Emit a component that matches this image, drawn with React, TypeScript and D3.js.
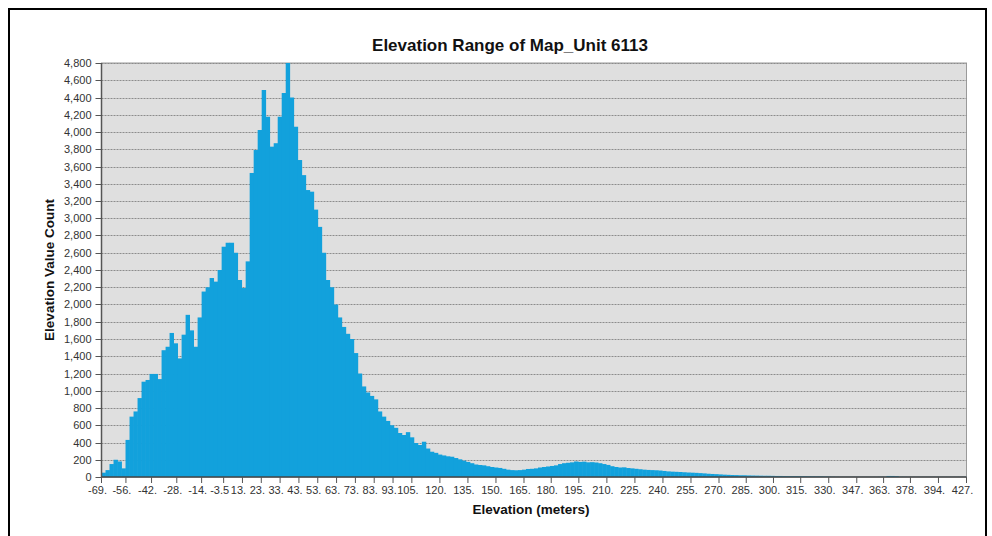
import React from "react";
import * as d3 from "d3";

// Histogram counts, one value per bin (left to right)
const BIN_COUNTS: number[] = [
  50, 80, 150, 200, 180, 100, 430, 700, 760, 915,
  1105, 1125, 1195, 1195, 1135, 1470, 1510, 1670, 1550, 1375,
  1650, 1880, 1700, 1510, 1850, 2150, 2200, 2307, 2265, 2400,
  2670, 2716, 2716, 2600, 2284, 2191, 2500, 3525, 3791, 4023,
  4487, 4177, 3830, 3870, 4177, 4452, 4800, 4400, 4061, 3675,
  3500, 3327, 3308, 3100, 2900, 2600, 2284, 2200, 2000, 1850,
  1740, 1660, 1600, 1437, 1200, 1050, 980, 940, 900, 760,
  700, 650, 600, 570, 510, 487, 520, 460, 394, 371,
  409, 330, 293, 280, 260, 250, 240, 235, 220, 205,
  190, 175, 160, 145, 139, 135, 125, 116, 110, 105,
  95, 85, 80, 78, 80, 85, 93, 95, 100, 110,
  116, 122, 128, 135, 150, 160, 165, 170, 180, 175,
  178, 170, 172, 168, 160, 150, 140, 125, 116, 110,
  112, 104, 100, 95, 90, 85, 82, 80, 78, 75,
  70, 65, 62, 60, 58, 55, 52, 50, 48, 45,
  42, 38, 35, 33, 30, 27, 25, 23, 22, 20,
  20, 18, 17, 16, 15, 14, 14, 13, 12, 12,
  11, 10, 10, 10, 9, 9, 8, 8, 7, 7,
  6, 5, 4, 3, 2, 2, 2, 2, 2, 2,
  2, 2, 2, 2, 3, 3, 12, 12, 10, 3,
  3, 2, 2, 2, 2, 2, 2, 2, 2, 2,
  2, 2, 2, 2, 2, 2,
];

// Category-axis labels and the bin position at which each tick sits
const X_TICK_LABELS: string[] = [
  "-69.", "-56.", "-42.", "-28.", "-14.", "-3.5", "13.", "23.", "33.", "43.",
  "53.", "63.", "73.", "83.", "93.", "105.", "120.", "135.", "150.", "165.",
  "180.", "195.", "210.", "225.", "240.", "255.", "270.", "285.", "300.", "315.",
  "330.", "347.", "363.", "378.", "394.", "427.",
];
const X_TICK_BINS: number[] = [
  0, 6.1, 12.5, 18.8, 25, 30.5, 35.2, 39.9, 44.6, 49.3,
  54.0, 58.7, 63.4, 68.1, 72.8, 77.5, 84.5, 91.5, 98.5, 105.5,
  112.3, 119.2, 126.2, 133.2, 140.2, 147.2, 154.2, 161, 167.8, 174.6,
  181.6, 188.6, 195.3, 202, 209, 216,
];

const Y_MAX = 4800;
const Y_STEP = 200;

const TITLE = "Elevation Range of Map_Unit 6113";
const X_TITLE = "Elevation (meters)";
const Y_TITLE = "Elevation Value Count";

export default function App() {
  const W = 992;
  const H = 536;
  const left = 101.5;
  const right = 966.5;
  const top = 63;
  const bottom = 477;

  const x = d3.scaleLinear().domain([0, BIN_COUNTS.length]).range([left, right]);
  const y = d3.scaleLinear().domain([0, Y_MAX]).range([bottom, top]);
  const yTicks = d3.range(0, Y_MAX + 1, Y_STEP);
  const fmt = d3.format(",");
  const font = "'Liberation Sans', Arial, sans-serif";

  return (
    <svg
      width={W}
      height={H}
      style={{ position: "absolute", left: 0, top: 0, background: "#fff" }}
      fontFamily={font}
    >
      <rect x={9} y={9} width={977} height={540} fill="#fff" stroke="#000" strokeWidth={2} />
      <text x={510} y={51} textAnchor="middle" fontSize={17} fontWeight="bold" fill="#111">
        {TITLE}
      </text>

      {/* plot background */}
      <rect x={left} y={top} width={right - left} height={bottom - top} fill="#dfdfdf" stroke="#9a9a9a" strokeWidth={1} />

      {/* gridlines */}
      {yTicks.slice(1).map((t) => (
        <line
          key={"g" + t}
          x1={left}
          x2={right}
          y1={Math.round(y(t)) + 0.5}
          y2={Math.round(y(t)) + 0.5}
          stroke="#8c8c8c"
          strokeWidth={1}
          strokeDasharray="2,1"
        />
      ))}

      {/* bars */}
      {BIN_COUNTS.map((v, i) => (
        <rect
          key={"b" + i}
          x={x(i)}
          y={y(v)}
          width={x(i + 1) - x(i) + 0.4}
          height={bottom - y(v)}
          fill="#12a1dc"
        />
      ))}

      {/* y axis */}
      <line x1={left} x2={left} y1={top} y2={bottom} stroke="#555" strokeWidth={1.5} />
      {yTicks.map((t) => (
        <g key={"y" + t} transform={`translate(0,${Math.round(y(t)) + 0.5})`}>
          <line x1={left - 6} x2={left} stroke="#555" strokeWidth={1} />
          <text x={left - 10} dy="0.35em" textAnchor="end" fontSize={11} fill="#333">
            {fmt(t)}
          </text>
        </g>
      ))}

      {/* x axis */}
      <line x1={left} x2={right} y1={bottom} y2={bottom} stroke="#444" strokeWidth={1.5} />
      {X_TICK_BINS.map((b, i) => (
        <g key={"x" + i} transform={`translate(${x(b)},${bottom})`}>
          <line y1={0} y2={6} stroke="#555" strokeWidth={1} />
          <text x={-4} y={17} textAnchor="middle" fontSize={11} fill="#333">
            {X_TICK_LABELS[i]}
          </text>
        </g>
      ))}

      <text x={531} y={514} textAnchor="middle" fontSize={13.5} fontWeight="bold" fill="#111">
        {X_TITLE}
      </text>
      <text
        transform={`translate(54,270) rotate(-90)`}
        textAnchor="middle"
        fontSize={13.5}
        fontWeight="bold"
        fill="#111"
      >
        {Y_TITLE}
      </text>
    </svg>
  );
}
